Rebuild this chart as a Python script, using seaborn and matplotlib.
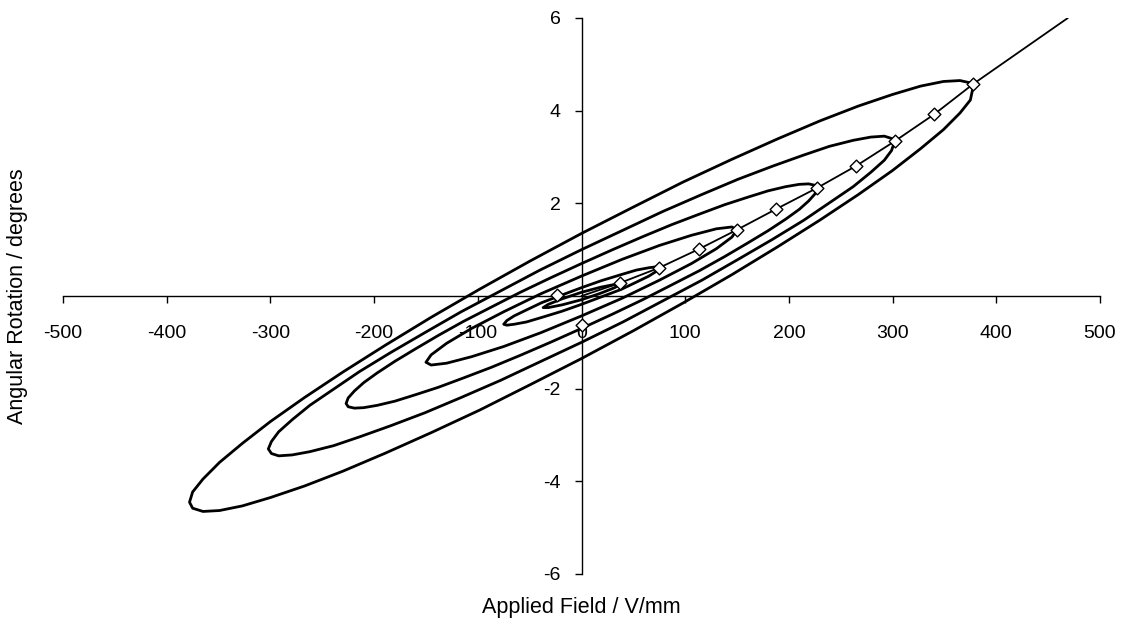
import numpy as np
import pandas as pd
import matplotlib
matplotlib.use("Agg")
import matplotlib.pyplot as plt
import seaborn as sns

# Hysteresis loops (applied field V/mm, rotation degrees)
# each loop: upper branch (right tip -> left end), then lower branch (left end -> right tip)
loop1_x = [378, 375, 365, 349, 327, 300, 267, 230, 189, 145, 98, 50, 0, -50, -98, -145, -189,
           -230, -267, -300, -327, -349, -365, -375, -378,
           -375, -365, -349, -327, -300, -267, -230, -189, -145, -98, -50, 0, 50, 98, 145, 189,
           230, 267, 300, 327, 349, 365, 375, 378]
loop1_y = [4.55, 4.60, 4.65, 4.63, 4.53, 4.35, 4.10, 3.78, 3.39, 2.95, 2.46, 1.92, 1.35, 0.75,
           0.15, -0.46, -1.06, -1.64, -2.19, -2.71, -3.18, -3.59, -3.95, -4.23, -4.45,
           -4.58, -4.65, -4.63, -4.53, -4.35, -4.10, -3.78, -3.39, -2.95, -2.46, -1.92, -1.35,
           -0.75, -0.15, 0.46, 1.06, 1.64, 2.19, 2.71, 3.18, 3.59, 3.95, 4.23, 4.55]

loop2_x = [302, 299, 292, 279, 262, 239, 214, 184, 151, 116, 78, 40, 0, -40, -78, -116, -151,
           -184, -214, -239, -262, -279, -292, -299, -302,
           -299, -292, -279, -262, -239, -214, -184, -151, -116, -78, -40, 0, 40, 78, 116, 151,
           184, 214, 239, 262, 279, 292, 299, 302]
loop2_y = [3.34, 3.40, 3.45, 3.43, 3.36, 3.23, 3.04, 2.80, 2.52, 2.19, 1.82, 1.42, 1.00, 0.56,
           0.11, -0.34, -0.79, -1.22, -1.63, -2.01, -2.36, -2.67, -2.93, -3.14, -3.30,
           -3.40, -3.45, -3.43, -3.36, -3.23, -3.04, -2.80, -2.52, -2.19, -1.82, -1.42, -1.00,
           -0.56, -0.11, 0.34, 0.79, 1.22, 1.63, 2.01, 2.36, 2.67, 2.93, 3.14, 3.34]

loop3_x = [227, 225, 219, 210, 197, 180, 160, 138, 114, 87, 59, 30, 0, -30, -59, -87, -114,
           -138, -160, -180, -197, -210, -219, -225, -227,
           -225, -219, -210, -197, -180, -160, -138, -114, -87, -59, -30, 0, 30, 59, 87, 114,
           138, 160, 180, 197, 210, 219, 225, 227]
loop3_y = [2.33, 2.39, 2.42, 2.41, 2.36, 2.27, 2.13, 1.97, 1.77, 1.54, 1.28, 1.00, 0.70, 0.39,
           0.08, -0.24, -0.55, -0.85, -1.14, -1.41, -1.66, -1.87, -2.05, -2.20, -2.32,
           -2.39, -2.42, -2.41, -2.36, -2.27, -2.13, -1.97, -1.77, -1.54, -1.28, -1.00, -0.70,
           -0.39, -0.08, 0.24, 0.55, 0.85, 1.14, 1.41, 1.66, 1.87, 2.05, 2.20, 2.33]

loop4_x = [150, 145, 130, 106, 75, 39, 0, -39, -75, -106, -130, -145, -150,
           -145, -130, -106, -75, -39, 0, 39, 75, 106, 130, 145, 150]
loop4_y = [1.43, 1.49, 1.45, 1.31, 1.09, 0.79, 0.43, 0.05, -0.34, -0.70, -1.02, -1.27, -1.43,
           -1.49, -1.45, -1.31, -1.09, -0.79, -0.43, -0.05, 0.34, 0.70, 1.02, 1.27, 1.43]

loop5_x = [75, 72, 65, 53, 38, 19, 0, -19, -38, -53, -65, -72, -75,
           -72, -65, -53, -38, -19, 0, 19, 38, 53, 65, 72, 75]
loop5_y = [0.61, 0.63, 0.61, 0.56, 0.46, 0.33, 0.18, 0.02, -0.14, -0.30, -0.43, -0.53, -0.61,
           -0.63, -0.61, -0.56, -0.46, -0.33, -0.18, -0.02, 0.14, 0.30, 0.43, 0.53, 0.61]

loop6_x = [37, 32, 18.5, 0, -18.5, -32, -37, -32, -18.5, 0, 18.5, 32, 37]
loop6_y = [0.25, 0.25, 0.19, 0.08, -0.06, -0.18, -0.25, -0.25, -0.19, -0.08, 0.06, 0.18, 0.25]

# initial (virgin) curve and the marked peak points
curve_x = [0, 37, 75, 113, 150, 188, 227, 265, 302, 340, 378, 469]
curve_y = [0, 0.28, 0.61, 1.01, 1.43, 1.88, 2.33, 2.81, 3.34, 3.92, 4.58, 6.0]

peak_x = [-24, 0, 37, 75, 113, 150, 188, 227, 265, 302, 340, 378]
peak_y = [0.02, -0.63, 0.28, 0.61, 1.01, 1.43, 1.88, 2.33, 2.81, 3.34, 3.92, 4.58]

x_ticks = [-500, -400, -300, -200, -100, 0, 100, 200, 300, 400, 500]
y_ticks = [-6, -4, -2, 2, 4, 6]

loops = [(loop1_x, loop1_y), (loop2_x, loop2_y), (loop3_x, loop3_y),
         (loop4_x, loop4_y), (loop5_x, loop5_y), (loop6_x, loop6_y)]
frames = []
for i, (lx, ly) in enumerate(loops):
    frames.append(pd.DataFrame({"field": lx, "rotation": ly, "loop": i}))
df_loops = pd.concat(frames, ignore_index=True)
df_curve = pd.DataFrame({"field": curve_x, "rotation": curve_y})
df_peaks = pd.DataFrame({"field": peak_x, "rotation": peak_y})

sns.set_theme(style="white")
plt.rcParams["font.family"] = ["Liberation Sans", "DejaVu Sans"]
plt.rcParams["text.color"] = "black"
plt.rcParams["axes.labelcolor"] = "black"
plt.rcParams["xtick.color"] = "black"
plt.rcParams["ytick.color"] = "black"

fig = plt.figure(figsize=(11.28, 6.24), dpi=100)
ax = fig.add_axes([63 / 1128, 1 - 574 / 624, (1100 - 63) / 1128, (574 - 18) / 624])

sns.lineplot(data=df_loops, x="field", y="rotation", units="loop", estimator=None,
             sort=False, color="black", linewidth=2.0, ax=ax, legend=False)
sns.lineplot(data=df_curve, x="field", y="rotation", estimator=None, sort=False,
             color="black", linewidth=1.3, ax=ax)
sns.scatterplot(data=df_peaks, x="field", y="rotation", marker="D", s=42,
                facecolor="white", edgecolor="black", linewidth=1.0, ax=ax, zorder=5)

ax.set_xlim(-500, 500)
ax.set_ylim(-6, 6)
ax.spines["left"].set_position(("data", 0))
ax.spines["bottom"].set_position(("data", 0))
ax.spines["top"].set_visible(False)
ax.spines["right"].set_visible(False)
for s in ("left", "bottom"):
    ax.spines[s].set_color("black")
    ax.spines[s].set_linewidth(1.0)

ax.set_xticks(x_ticks)
ax.set_xticklabels([str(t) for t in x_ticks])
ax.set_yticks(y_ticks)
ax.set_yticklabels([str(t) for t in y_ticks])
ax.tick_params(axis="x", direction="out", length=5, width=1, colors="black",
               labelsize=14, pad=16, bottom=True)
ax.tick_params(axis="y", direction="out", length=5, width=1, colors="black",
               labelsize=14, pad=10, left=True)

ax.set_xlabel("Applied Field / V/mm", fontsize=15.5, color="black")
ax.set_ylabel("Angular Rotation / degrees", fontsize=15.5, color="black")
ax.xaxis.set_label_coords(0.5, -0.042)
ax.yaxis.set_label_coords(-0.034, 0.5)
ax.grid(False)

fig.savefig("out.png", dpi=100)
